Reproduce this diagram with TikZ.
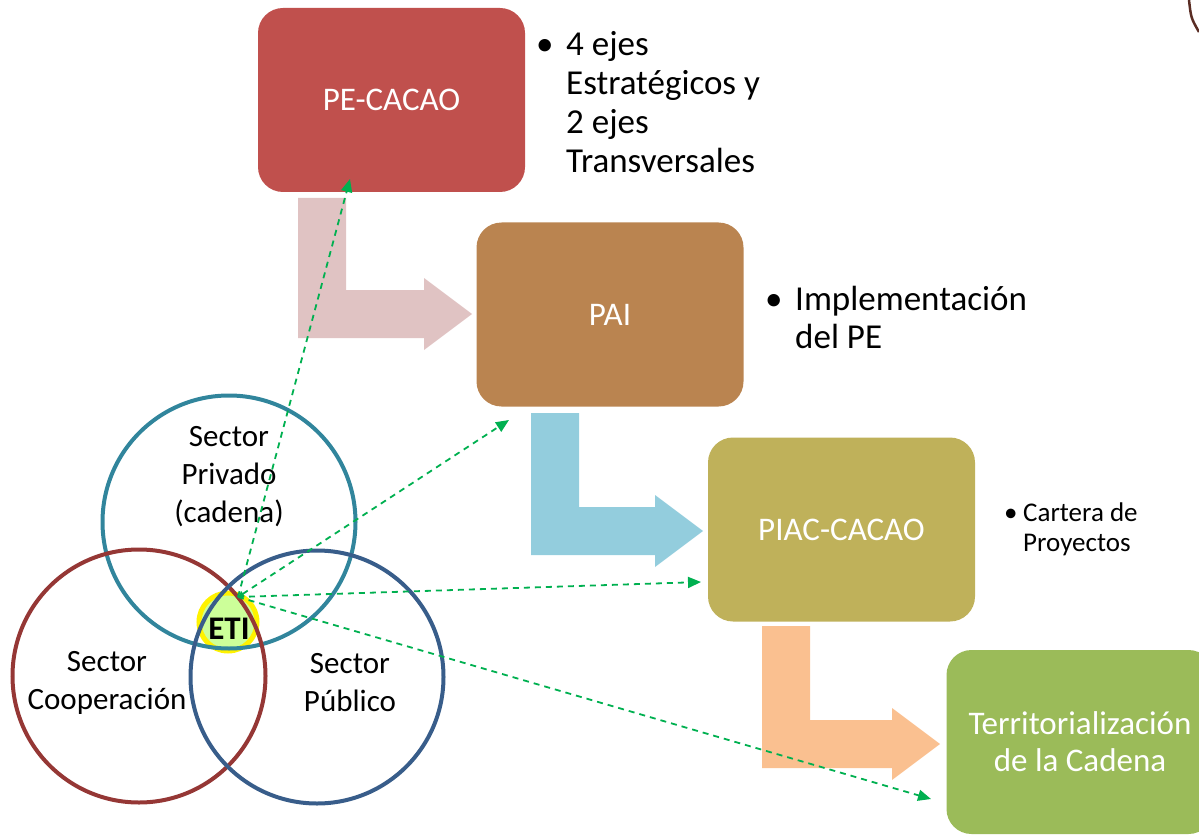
\documentclass[tikz,border=0pt]{standalone}
\usepackage{fontspec}
\setmainfont{Carlito}
\usetikzlibrary{arrows.meta}

\definecolor{pecolor}{HTML}{C0504D}
\definecolor{paicolor}{HTML}{BA8450}
\definecolor{piaccolor}{HTML}{BFB15A}
\definecolor{terrcolor}{HTML}{9BBB59}
\definecolor{pinkarrow}{HTML}{E0C3C3}
\definecolor{bluearrow}{HTML}{93CDDD}
\definecolor{orangearrow}{HTML}{FAC090}
\definecolor{privcolor}{HTML}{31859C}
\definecolor{coopcolor}{HTML}{953735}
\definecolor{pubcolor}{HTML}{385D8A}
\definecolor{linkgreen}{HTML}{00B050}
\definecolor{etigreen}{HTML}{CCFF99}
\definecolor{arccolor}{HTML}{5A2D24}

% bent block arrow: colour, left x, top y, bottom y, tip x
\newcommand{\bentarrow}[5]{%
  \fill[#1] (#2,#3) -- (#2+48,#3) -- (#2+48,#4-48) -- (#5-48,#4-48)
    -- (#5-48,#4-60) -- (#5,#4-24) -- (#5-48,#4+12) -- (#5-48,#4)
    -- (#2,#4) -- cycle;}

\begin{document}
\begin{tikzpicture}[
    x=1pt, y=-1pt,
    >={Triangle[length=13pt, width=11pt]},
    box/.style={rectangle, rounded corners=25pt, minimum width=267pt,
      minimum height=184pt, inner sep=0pt, text=white, align=center,
      font=\fontsize{33}{37}\selectfont},
    ring/.style={circle, minimum size=253pt, inner sep=0pt, line width=4pt},
    lbl/.style={align=center, font=\fontsize{31}{38}\selectfont},
    link/.style={->, draw=linkgreen, line width=1.8pt,
      dash pattern=on 6pt off 5pt}
  ]
  \clip (0,0) rectangle (1199,837);
  \useasboundingbox (0,0) rectangle (1199,837);

  % --- BENT ARROWS ---
  \bentarrow{pinkarrow}{298}{198}{338}{472}
  \bentarrow{bluearrow}{531}{413}{555}{703}
  \bentarrow{orangearrow}{762}{626}{768}{940}

  % --- BOXES ---
  \node[box, fill=pecolor] (pe) at (391.5,100) {PE-CACAO};
  \node[box, fill=paicolor] (pai) at (610,314.5) {PAI};
  \node[box, fill=piaccolor] (piac) at (841.5,529.5) {PIAC-CACAO};
  \node[box, fill=terrcolor] (terr) at (1080,742) {Territorialización\\de la Cadena};

  % --- BULLET TEXTS ---
  \node[anchor=base west, inner sep=0pt] (ejes) at (536,56)
    {\fontsize{35}{39}\selectfont\begin{tabular}[t]{@{}p{30pt}@{}l@{}}
      \textbullet & 4 ejes\\ & Estratégicos y\\ & 2 ejes\\ & Transversales
    \end{tabular}};
  \node[anchor=base west, inner sep=0pt] (impl) at (765,310)
    {\fontsize{35}{38}\selectfont\begin{tabular}[t]{@{}p{30pt}@{}l@{}}
      \textbullet & Implementación\\ & del PE
    \end{tabular}};
  \node[anchor=base west, inner sep=0pt] (cartera) at (1004,521)
    {\fontsize{27}{30}\selectfont\begin{tabular}[t]{@{}p{19pt}@{}l@{}}
      \textbullet & Cartera de\\ & Proyectos
    \end{tabular}};

  % --- ETI AND SECTORS ---
  \node[circle, fill=etigreen, draw=yellow, line width=5pt,
    minimum size=58pt, inner sep=0pt] (eti) at (228,622) {};
  \node[ring, draw=privcolor] (privado) at (229,522) {};
  \node[ring, draw=coopcolor] (coop) at (139,676) {};
  \node[ring, draw=pubcolor] (publico) at (317,677) {};
  \node[lbl] (privlbl) at (229,477) {Sector\\Privado\\(cadena)};
  \node[lbl] (cooplbl) at (107,683) {Sector\\Cooperación};
  \node[lbl] (publbl) at (350,683) {Sector\\Público};
  \node[font=\fontsize{33}{33}\selectfont\bfseries] (etilbl) at (229,629) {ETI};

  % --- LINKS FROM ETI ---
  \coordinate (src) at (238,597);
  \coordinate (tope) at (350,179);
  \coordinate (topai) at (509,420);
  \coordinate (topiac) at (701,582);
  \coordinate (toterr) at (931,799);
  \draw[link] (src) -- (tope);
  \draw[link, {Triangle[length=6pt, width=6pt]}->] (src) -- (topai);
  \draw[link] (src) -- (topiac);
  \draw[link] (src) -- (toterr);

  % stray arc in the corner
  \draw[arccolor, line width=2.5pt] (1189,0) .. controls (1191,18) .. (1199,32);
\end{tikzpicture}
\end{document}
